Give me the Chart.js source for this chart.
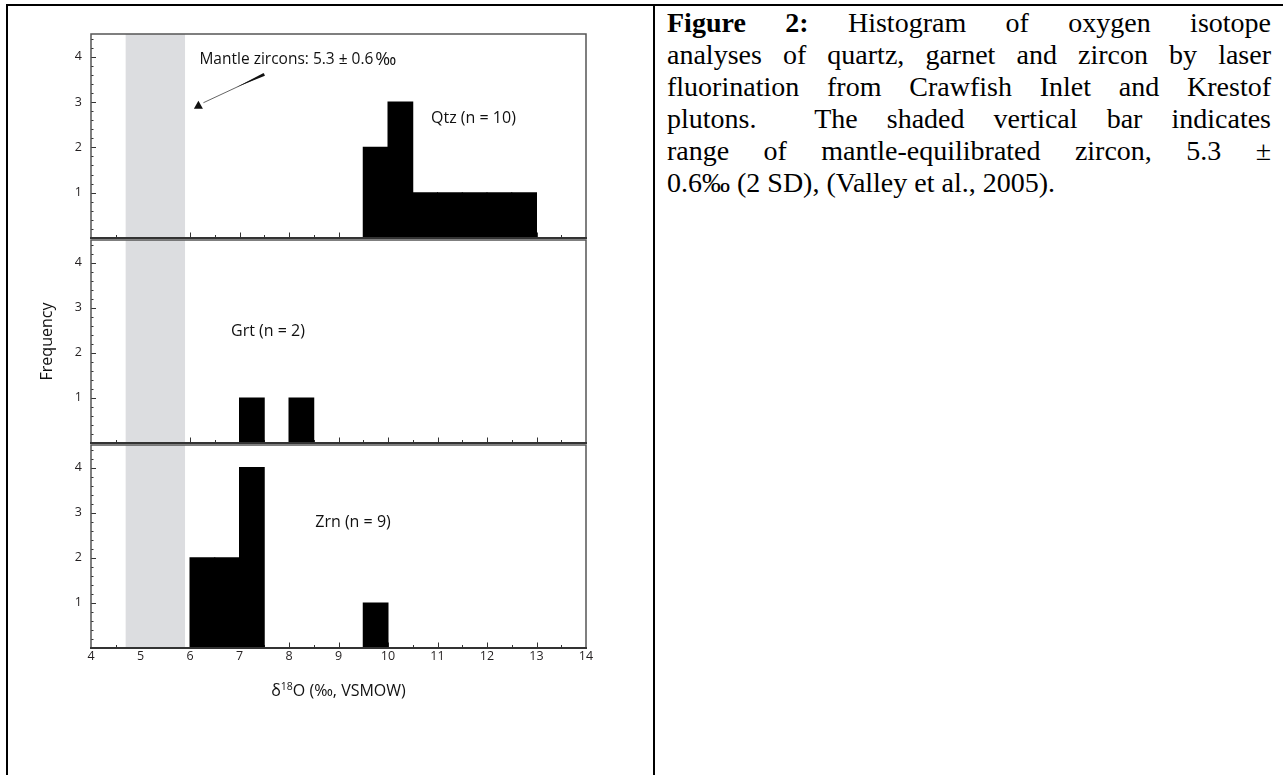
<!DOCTYPE html>
<html>
<head>
<meta charset="utf-8">
<script src="https://cdn.jsdelivr.net/npm/chart.js@4.4.1/dist/chart.umd.min.js"></script>
<style>
  body { margin: 0; background: #fff; width: 1283px; height: 775px; overflow: hidden; position: relative; }
  .rule { position: absolute; background: #000; }
  canvas { position: absolute; left: 0; }
  #p1 { top: 24px; }
  #p2 { top: 230px; }
  #p3 { top: 435px; }
  .caption { position: absolute; left: 667px; top: 7px; width: 604px; font-family: 'Liberation Serif', 'Times New Roman', serif; font-size: 28px; line-height: 32px; color: #000; }
  .caption div { text-align: justify; text-align-last: justify; }
  .caption div.last { text-align: left; text-align-last: left; }
</style>
</head>
<body>
<div class="rule" style="left:6px; top:4px; width:1277px; height:2px;"></div>
<div class="rule" style="left:6px; top:4px; width:2px; height:771px;"></div>
<div class="rule" style="left:653px; top:4px; width:2px; height:771px;"></div>

<canvas id="p1" width="640" height="224"></canvas>
<canvas id="p2" width="640" height="223"></canvas>
<canvas id="p3" width="640" height="285"></canvas>

<div class="caption">
  <div><b>Figure 2:</b> Histogram of oxygen isotope</div>
  <div>analyses of quartz, garnet and zircon by laser</div>
  <div>fluorination from Crawfish Inlet and Krestof</div>
  <div>plutons.&nbsp; The shaded vertical bar indicates</div>
  <div>range of mantle-equilibrated zircon, 5.3 ±</div>
  <div class="last">0.6‰ (2 SD), (Valley et al., 2005).</div>
</div>

<script>
// 0.5 ‰ bins from 4 to 14
const binCenters = [4.25, 4.75, 5.25, 5.75, 6.25, 6.75, 7.25, 7.75, 8.25, 8.75,
                    9.25, 9.75, 10.25, 10.75, 11.25, 11.75, 12.25, 12.75, 13.25, 13.75];
const qtzCounts = [0, 0, 0, 0, 0, 0, 0, 0, 0, 0, 0, 2, 3, 1, 1, 1, 1, 1, 0, 0];
const grtCounts = [0, 0, 0, 0, 0, 0, 1, 0, 1, 0, 0, 0, 0, 0, 0, 0, 0, 0, 0, 0];
const zrnCounts = [0, 0, 0, 0, 2, 2, 4, 0, 0, 0, 0, 1, 0, 0, 0, 0, 0, 0, 0, 0];
const xTicks = [4, 5, 6, 7, 8, 9, 10, 11, 12, 13, 14];
const yTicks = [1, 2, 3, 4];
const mantleRange = [4.7, 5.9];   // 5.3 ± 0.6
const panelNames = ['Qtz (n = 10)', 'Grt (n = 2)', 'Zrn (n = 9)'];

const FONT = "'Open Sans', 'Liberation Sans', sans-serif";
const X_MIN = 4, X_MAX = 14, Y_MAX = 4.5;

// where the panel labels sit, in data units
const labelSpots = [
  { x: 10.87, y: 2.64 },
  { x: 6.83, y: 2.47 },
  { x: 8.53, y: 2.78 }
];
const mantleNote = {
  text: 'Mantle zircons: 5.3 ± 0.6', permil: '‰', x: 6.19, permilX: 9.74, y: 3.94,
  mark: { x: 6.17, y: 2.94 }, tail: { x: 7.5, y: 3.61 }
};

const panelPlugin = {
  id: 'panel',
  beforeDatasetsDraw(chart) {
    const { ctx, chartArea: a, scales: { x, y } } = chart;
    ctx.save();
    ctx.strokeStyle = '#333';
    ctx.lineWidth = 1;
    // y ticks, inward
    for (let i = 1; i <= 22; i++) {
      const v = i / 5;
      const py = Math.round(y.getPixelForValue(v)) + 0.5;
      const len = (i % 5 === 0) ? 5 : 2.5;
      ctx.beginPath();
      ctx.moveTo(a.left, py);
      ctx.lineTo(a.left + len, py);
      ctx.stroke();
    }
    // x ticks, inward from the bottom axis
    for (let i = 1; i < 20; i++) {
      const v = X_MIN + i / 2;
      const px = Math.round(x.getPixelForValue(v)) + 0.5;
      const len = (i % 2 === 0) ? 5.5 : 3;
      ctx.beginPath();
      ctx.moveTo(px, a.bottom);
      ctx.lineTo(px, a.bottom - len);
      ctx.stroke();
    }
    // shaded mantle band
    const x0 = x.getPixelForValue(mantleRange[0]);
    const x1 = x.getPixelForValue(mantleRange[1]);
    ctx.fillStyle = '#dcdde0';
    ctx.fillRect(x0, a.top, x1 - x0, a.bottom - a.top);
    ctx.restore();
  },
  afterDatasetsDraw(chart, args, opts) {
    const { ctx, chartArea: a, scales: { x, y } } = chart;
    ctx.save();
    // frame
    ctx.strokeStyle = '#555';
    ctx.lineWidth = 1.5;
    ctx.beginPath();
    ctx.moveTo(a.left, a.bottom);
    ctx.lineTo(a.left, a.top);
    ctx.lineTo(a.right, a.top);
    ctx.lineTo(a.right, a.bottom);
    ctx.stroke();
    ctx.strokeStyle = '#333';
    ctx.lineWidth = 2.2;
    ctx.beginPath();
    ctx.moveTo(a.left - 1, a.bottom);
    ctx.lineTo(a.right + 1, a.bottom);
    ctx.stroke();

    ctx.fillStyle = '#111';
    ctx.textBaseline = 'middle';
    ctx.textAlign = 'left';
    ctx.font = '16px ' + FONT;
    const spot = labelSpots[opts.index];
    ctx.fillText(panelNames[opts.index], x.getPixelForValue(spot.x), y.getPixelForValue(spot.y));

    if (opts.index === 0) {
      const n = mantleNote;
      ctx.font = '15.5px ' + FONT;
      ctx.fillText(n.text, x.getPixelForValue(n.x), y.getPixelForValue(n.y));
      ctx.font = '18px ' + FONT;
      ctx.fillText(n.permil, x.getPixelForValue(n.permilX), y.getPixelForValue(n.y));
      const mx = x.getPixelForValue(n.mark.x), my = y.getPixelForValue(n.mark.y);
      ctx.beginPath();
      ctx.moveTo(mx - 4.5, my + 4);
      ctx.lineTo(mx + 4.5, my + 4);
      ctx.lineTo(mx, my - 4);
      ctx.closePath();
      ctx.fill();
      // leader line, thickening towards the text
      const sx = mx + 5, sy = my - 2;
      const ex = x.getPixelForValue(n.tail.x), ey = y.getPixelForValue(n.tail.y);
      ctx.strokeStyle = '#222';
      ctx.lineWidth = 0.7;
      ctx.beginPath();
      ctx.moveTo(sx, sy);
      ctx.lineTo(ex, ey);
      ctx.stroke();
      const dx = ex - sx, dy = ey - sy, L = Math.hypot(dx, dy);
      const nx = -dy / L, ny = dx / L;
      const wx = sx + dx * 0.55, wy = sy + dy * 0.55;
      ctx.beginPath();
      ctx.moveTo(wx, wy);
      ctx.lineTo(ex + nx * 1.6, ey + ny * 1.6);
      ctx.lineTo(ex - nx * 1.6, ey - ny * 1.6);
      ctx.closePath();
      ctx.fill();
    }

    if (opts.index === 2) {
      // x axis title with a real superscript
      const cx = (a.left + a.right) / 2;
      const base = 261;
      ctx.textBaseline = 'alphabetic';
      ctx.font = '16px ' + FONT;
      const p1 = 'δ', p3 = 'O (‰, VSMOW)';
      const w1 = ctx.measureText(p1).width;
      const w3 = ctx.measureText(p3).width;
      ctx.font = '10.5px ' + FONT;
      const w2 = ctx.measureText('18').width;
      let px = cx - (w1 + w2 + w3) / 2;
      ctx.font = '16px ' + FONT;
      ctx.fillText(p1, px, base);
      px += w1;
      ctx.font = '10.5px ' + FONT;
      ctx.fillText('18', px, base - 6);
      px += w2;
      ctx.font = '16px ' + FONT;
      ctx.fillText(p3, px, base);
    }
    ctx.restore();
  }
};

function makePanel(id, counts, index, xHeight, withLabels, yTitle) {
  return new Chart(document.getElementById(id), {
    type: 'bar',
    data: {
      datasets: [{
        data: binCenters.map((c, i) => ({ x: c, y: counts[i] })),
        backgroundColor: '#000',
        borderWidth: 0,
        barPercentage: 1,
        categoryPercentage: 1,
        inflateAmount: 0.5
      }]
    },
    options: {
      responsive: false,
      animation: false,
      layout: { padding: { left: 0, right: 54, top: 10, bottom: 0 } },
      plugins: {
        legend: { display: false },
        tooltip: { enabled: false },
        panel: { index }
      },
      scales: {
        x: {
          type: 'linear',
          min: X_MIN,
          max: X_MAX,
          offset: false,
          grid: { display: false, drawTicks: false },
          border: { display: false },
          afterBuildTicks: s => { s.ticks = xTicks.map(v => ({ value: v })); },
          afterFit: s => { s.height = xHeight; s.paddingLeft = 0; s.paddingRight = 0; },
          ticks: {
            display: withLabels,
            padding: 1,
            color: '#231f20',
            font: { family: FONT, size: 12.5 }
          }
        },
        y: {
          min: 0,
          max: Y_MAX,
          grid: { display: false, drawTicks: false },
          border: { display: false },
          afterBuildTicks: s => { s.ticks = yTicks.map(v => ({ value: v })); },
          afterFit: s => { s.width = 91; s.paddingTop = 0; s.paddingBottom = 0; },
          ticks: {
            padding: 9,
            color: '#231f20',
            font: { family: FONT, size: 12.5 }
          },
          title: {
            display: !!yTitle,
            text: yTitle || '',
            color: '#111',
            font: { family: FONT, size: 16 },
            padding: { top: 38, bottom: 0 }
          }
        }
      }
    },
    plugins: [panelPlugin]
  });
}

makePanel('p1', qtzCounts, 0, 10, false);
makePanel('p2', grtCounts, 1, 10, false, 'Frequency');
makePanel('p3', zrnCounts, 2, 72, true);
</script>
</body>
</html>
